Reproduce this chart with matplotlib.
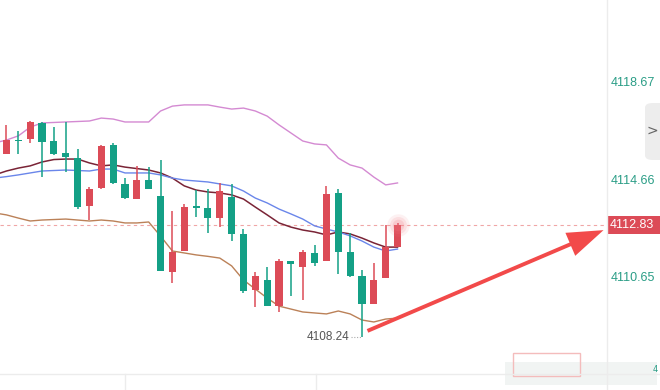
import numpy as np
import matplotlib.pyplot as plt
from matplotlib.patches import Rectangle, FancyBboxPatch, FancyArrowPatch
from matplotlib.transforms import blended_transform_factory

# candle data (red = up, green = down)
opens = [4115.75, 4116.30, 4116.36, 4117.02, 4116.28, 4115.79, 4115.58, 4113.62, 4114.35, 4116.12,
         4114.52, 4113.90, 4114.68, 4114.03, 4110.91, 4111.77, 4113.62, 4113.53, 4113.12, 4113.98,
         4112.47, 4110.17, 4110.58, 4109.52, 4111.36, 4111.11, 4111.69, 4111.36, 4114.15, 4111.73,
         4110.75, 4109.60, 4110.66, 4111.93]
highs = [4116.94, 4116.69, 4117.10, 4117.05, 4116.85, 4117.06, 4115.95, 4114.39, 4116.10, 4116.20,
         4114.76, 4115.26, 4115.21, 4115.50, 4113.41, 4113.70, 4114.27, 4114.31, 4114.56, 4114.52,
         4112.67, 4110.91, 4111.11, 4111.44, 4111.38, 4111.81, 4112.02, 4114.44, 4114.31, 4112.51,
         4110.99, 4111.28, 4112.84, 4112.90]
lows = [4115.75, 4115.75, 4116.20, 4114.80, 4115.72, 4115.01, 4113.49, 4113.04, 4114.33, 4114.53,
        4113.90, 4113.90, 4114.30, 4110.95, 4110.46, 4111.75, 4113.16, 4112.51, 4112.75, 4112.18,
        4110.05, 4109.47, 4109.50, 4109.27, 4109.93, 4109.76, 4111.16, 4111.34, 4110.83, 4110.70,
        4108.24, 4109.58, 4110.65, 4111.93]
closes = [4116.32, 4116.27, 4117.06, 4116.24, 4115.75, 4115.62, 4113.57, 4114.31, 4116.08, 4114.56,
          4113.94, 4114.68, 4114.31, 4110.95, 4111.73, 4113.57, 4113.53, 4113.12, 4114.23, 4112.47,
          4110.13, 4110.75, 4109.52, 4111.36, 4111.24, 4111.73, 4111.28, 4114.11, 4111.73, 4110.75,
          4109.60, 4110.58, 4111.93, 4112.83]

# indicator lines, first value belongs to the bar just left of the view
boll_upper = [4116.20, 4116.32, 4116.49, 4116.85, 4117.02, 4117.04, 4117.06, 4117.08, 4117.10, 4117.22,
              4117.18, 4117.06, 4117.06, 4117.06, 4117.51, 4117.71, 4117.76, 4117.76, 4117.76, 4117.67,
              4117.59, 4117.63, 4117.51, 4117.30, 4116.94, 4116.61, 4116.28, 4116.16, 4116.12, 4115.58,
              4115.30, 4115.17, 4114.80, 4114.48, 4114.56]
ma_dark = [4114.89, 4115.05, 4115.17, 4115.26, 4115.42, 4115.52, 4115.54, 4115.54, 4115.38, 4115.26,
           4115.30, 4115.21, 4115.15, 4115.09, 4114.97, 4114.76, 4114.44, 4114.27, 4114.19, 4114.15,
           4114.07, 4113.90, 4113.57, 4113.25, 4112.92, 4112.75, 4112.63, 4112.55, 4112.43, 4112.55,
           4112.47, 4112.30, 4112.10, 4111.93, 4111.93]
ma_blue = [4114.76, 4114.82, 4114.89, 4114.97, 4115.05, 4115.07, 4115.09, 4115.07, 4115.05, 4115.13,
           4115.13, 4114.97, 4114.97, 4114.97, 4114.89, 4114.76, 4114.68, 4114.64, 4114.60, 4114.52,
           4114.44, 4114.23, 4113.94, 4113.74, 4113.49, 4113.29, 4113.08, 4112.80, 4112.67, 4112.55,
           4112.39, 4112.18, 4111.93, 4111.77, 4111.85]
boll_lower = [4113.33, 4113.25, 4113.12, 4113.00, 4113.04, 4113.06, 4113.08, 4113.04, 4113.00, 4113.04,
              4113.00, 4112.92, 4112.92, 4112.96, 4112.38, 4111.77, 4111.69, 4111.61, 4111.55, 4111.48,
              4111.16, 4110.58, 4110.21, 4109.84, 4109.51, 4109.39, 4109.27, 4109.23, 4109.19, 4109.31,
              4109.19, 4108.94, 4108.86, 4108.98, 4109.02]

tick_prices = [4118.67, 4114.66, 4110.65]
last_price = 4112.83
low_price = 4108.24
low_label = "4108.24"

RED = "#dc4b57"
GREEN = "#14a086"
TEAL_TEXT = "#2a9d86"

W, H = 660, 390
fig = plt.figure(figsize=(6.6, 3.9), dpi=100)
ax = fig.add_axes([0, 0, 1, 1])
ax.set_xlim(-0.5485, 55.15)
ax.set_ylim(4106.071, 4122.061)
ax.axis("off")


def fx(x):
    return x / W


def fy(y):
    return 1 - y / H


# frame pieces of the trading widget
fig.add_artist(plt.Line2D([fx(607), fx(607)], [0, 1], color="#ececec", lw=1))
fig.add_artist(plt.Line2D([0, 1], [fy(374), fy(374)], color="#ececec", lw=1))
for xv in [125, 316]:
    fig.add_artist(plt.Line2D([fx(xv), fx(xv)], [0, fy(374)], color="#ececec", lw=1))

# side tab
fig.add_artist(FancyBboxPatch((fx(645), fy(160)), fx(25), (160 - 103) / H,
                              boxstyle="round,pad=0,rounding_size=0.012",
                              fc="#ededed", ec="none"))
fig.text(fx(652), fy(131), ">", color="#666666", fontsize=10, ha="center", va="center")

# bottom scroll bar (blurred in the original)
fig.add_artist(Rectangle((fx(505), fy(385)), fx(152), 23 / H, fc="#f1f4f3", ec="none"))
fig.add_artist(Rectangle((fx(513), fy(376)), fx(67), 23 / H, fc="none", ec="#f4bcbc", lw=1))
fig.text(fx(655), fy(369), "4", color=TEAL_TEXT, fontsize=6, ha="center", va="center")

x = np.arange(len(opens))
xl = np.arange(-1, len(opens))

# current price dashed line
ax.hlines(last_price, -0.55, 50.68, color="#f0a6a6", lw=0.8, linestyles=(0, (3, 3)), zorder=1)

# indicator lines
ax.plot(xl, boll_upper, color="#d48ad2", lw=1, zorder=2)
ax.plot(xl, ma_dark, color="#7a2436", lw=1.1, zorder=2)
ax.plot(xl, ma_blue, color="#6a86ea", lw=1, zorder=2)
ax.plot(xl, boll_lower, color="#bb8158", lw=1, zorder=2)

# candles
o = np.array(opens)
c = np.array(closes)
colors = [RED if cc >= oo else GREEN for oo, cc in zip(o, c)]
ax.vlines(x, lows, highs, color=colors, lw=1.1, zorder=3)
bottoms = np.minimum(o, c)
heights = np.maximum(np.abs(c - o), 0.06)
ax.bar(x, heights, bottom=bottoms, width=0.6, color=colors, zorder=4)

# glow on the live candle
for s, a in [(260, 0.10), (150, 0.15), (70, 0.2)]:
    ax.scatter(x[-1], closes[-1], s=s, color="#f07a84", alpha=a, lw=0, zorder=5)

# low marker
ax.hlines(low_price, x[30] - 0.95, x[30] - 0.1, color="#aaaaaa", lw=0.8,
          linestyles=(0, (1, 1.5)), zorder=5)
ax.text(x[30] - 1.05, low_price, low_label, ha="right", va="center",
        fontsize=8.5, color="#555555", family="Liberation Sans", zorder=5)

# price axis labels
trans = blended_transform_factory(ax.transAxes, ax.transData)
for tp in tick_prices:
    ax.text(fx(611), tp, f"{tp:.2f}", transform=trans, ha="left", va="center",
            fontsize=9, color=TEAL_TEXT, family="Liberation Sans")
ax.add_patch(Rectangle((fx(607), last_price - 0.37), fx(53), 0.74, transform=trans,
                       fc="#dc4b57", ec="none", zorder=6, clip_on=False))
ax.text(fx(610), last_price, f"{last_price:.2f}", transform=trans, ha="left", va="center",
        fontsize=9, color="white", family="Liberation Sans", zorder=7)

# red arrow pointing at the last price
arrow = FancyArrowPatch((30.25, 4108.45), (50.6, 4112.67),
                        arrowstyle="simple,head_length=1.3,head_width=0.9,tail_width=0.14",
                        mutation_scale=20, color="#f24a4a", lw=0, zorder=8)
ax.add_patch(arrow)

fig.savefig("out.png", dpi=100)
